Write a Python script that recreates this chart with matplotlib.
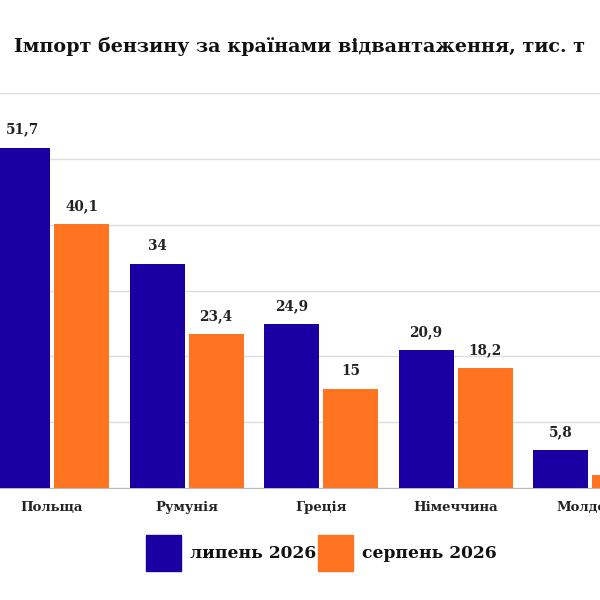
import numpy as np
import matplotlib.pyplot as plt
from matplotlib.patches import Rectangle

countries = ['Польща', 'Румунія', 'Греція', 'Німеччина', 'Молдова']
july = [51.7, 34, 24.9, 20.9, 5.8]
august = [40.1, 23.4, 15, 18.2, 1.9]
series_names = ['липень 2026', 'серпень 2026']
blue = '#1a00a2'
orange = '#ff7421'

plt.rcParams['font.family'] = ['DejaVu Serif']
plt.rcParams['font.weight'] = 'bold'

fig = plt.figure(figsize=(6, 6), dpi=100)
ax = fig.add_axes([0, 112 / 600, 1, (488 - 93) / 600])

x = np.arange(len(countries))
w = 55 / 134.5
off = 29.5 / 134.5
b1 = ax.bar(x - off, july, width=w, color=blue, zorder=3)
b2 = ax.bar(x + off, august, width=w, color=orange, zorder=3)

def fmt(v):
    s = f'{v:g}'
    return s.replace('.', ',')

for bars, vals in [(b1, july), (b2, august)]:
    for b, v in zip(bars, vals):
        ax.annotate(fmt(v), (b.get_x() + b.get_width() / 2, v), xytext=(0, 8),
                    textcoords='offset points', ha='center', va='bottom',
                    fontsize=9.8, fontweight='bold', color='#222222')

ax.set_xlim(-52 / 134.5, (600 - 52) / 134.5)
ax.set_ylim(0, 60)
ax.set_yticks(np.arange(0, 61, 10))
ax.yaxis.grid(True, color='#dddddd', linewidth=1, zorder=0)
ax.tick_params(axis='y', left=False, labelleft=False)
ax.tick_params(axis='x', bottom=False, pad=6)
ax.set_xticks(x)
ax.set_xticklabels(countries, fontsize=9.5, fontweight='bold', color='#222222')
for s in ['top', 'right', 'left']:
    ax.spines[s].set_visible(False)
ax.spines['bottom'].set_color('#bbbbbb')

fig.text(0.5, 1 - 47 / 600, 'Імпорт бензину за країнами відвантаження, тис. т',
         ha='center', va='center', fontsize=13.8, fontweight='bold', color='#111111')

# legend
for px, col, name in [(146, blue, series_names[0]), (318, orange, series_names[1])]:
    fig.patches.append(Rectangle((px / 600, 1 - 571 / 600), 35 / 600, 36 / 600,
                                 transform=fig.transFigure, color=col))
    fig.text((px + 44) / 600, 1 - 553 / 600, name, ha='left', va='center',
             fontsize=12.3, fontweight='bold', color='#111111')

fig.savefig('out.png', dpi=100)
